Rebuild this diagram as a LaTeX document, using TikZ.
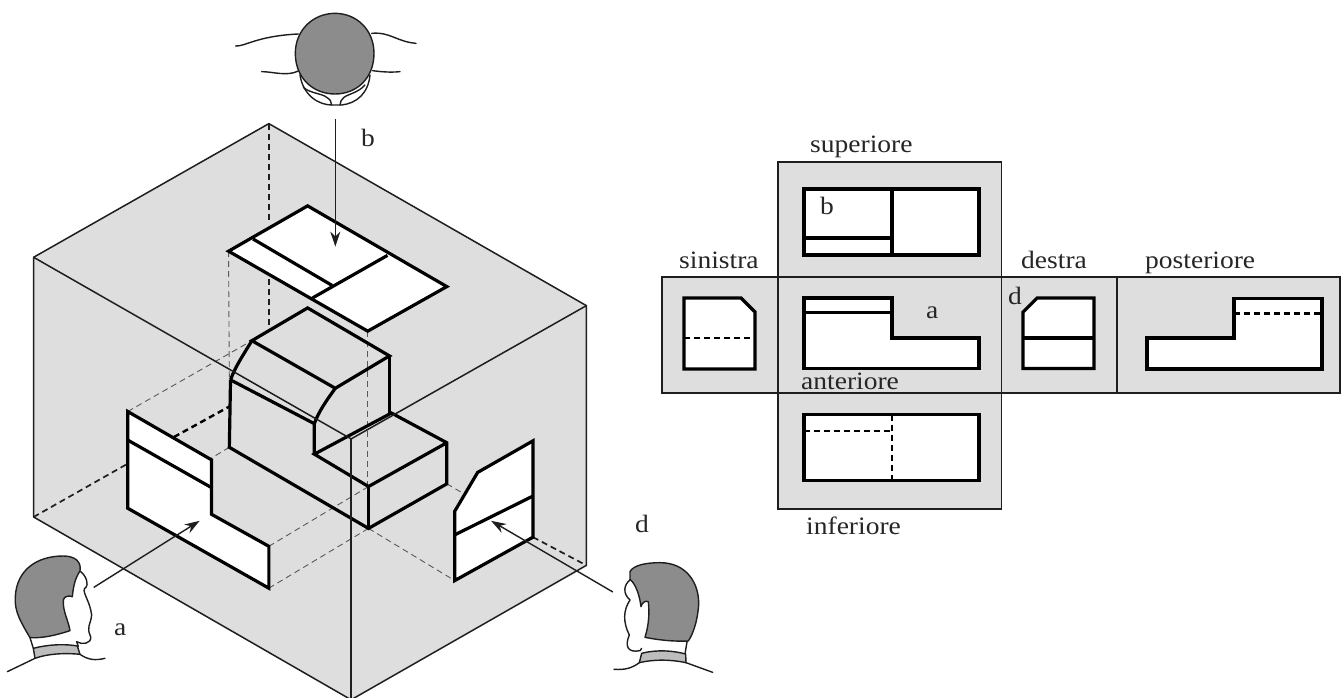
\documentclass[tikz,border=0pt]{standalone}
\usepackage{fontspec}
\setmainfont[FakeStretch=1.1]{Liberation Serif}
\usetikzlibrary{arrows.meta}
\definecolor{facegray}{HTML}{DEDEDE}
\definecolor{hairgray}{HTML}{8C8C8C}
\definecolor{collargray}{HTML}{BDBDBD}
\definecolor{inkblack}{HTML}{1E1E1E}
\tikzset{
  cubeedge/.style={draw=inkblack,line width=1.5pt,line join=round},
  heavy/.style={draw=black,line width=3.2pt,line join=miter},
  flatedge/.style={draw=inkblack,line width=1.2pt},
  hiddenthin/.style={draw=black!65,line width=0.9pt,dash pattern=on 6pt off 4pt},
  hiddenbold/.style={draw=inkblack,line width=1.7pt,dash pattern=on 6pt off 4pt},
  hiddenheavy/.style={draw=black,line width=2.4pt,dash pattern=on 6pt off 4pt},
  sight/.style={draw=inkblack,line width=1.4pt,-{Stealth[length=15pt,width=10pt]}},
  outline/.style={draw=inkblack,line width=1.4pt,line join=round,line cap=round},
  lbl/.style={inner sep=0pt,anchor=base west,font=\fontsize{25}{30}\selectfont,text=black!85},
}
\begin{document}
\begin{tikzpicture}[x=1pt,y=-1pt]
\useasboundingbox (0,0) rectangle (1341,697);
\clip (0,0) rectangle (1341,697);
\fill[white] (0,0) rectangle (1341,697);
% ---------- cube, in crop coordinates
\begin{scope}[yshift=-100pt,x=0.3954pt,y=-0.3808pt]
\coordinate (apex) at (680,62);
\coordinate (cl) at (85,413);
\coordinate (cr) at (1483,540);
\coordinate (cc) at (888,890);
\coordinate (bl) at (85,1095);
\coordinate (br) at (1483,1222);
\coordinate (bc) at (888,1575);
\fill[facegray] (apex)--(cr)--(br)--(bc)--(bl)--(cl)--cycle;
% hidden
\draw[hiddenbold] (bl)--(323,955);
\draw[hiddenbold] (323,955)--(440,885);
\draw[hiddenheavy] (440,885)--(580,805);
\draw[hiddenbold] (apex)--(680,320);
\draw[hiddenbold] (680,470)--(680,600);
\draw[hiddenbold] (1348,1148)--(br);
\draw[hiddenthin] (323,818)--(637,632);
\draw[hiddenthin] (680,1172)--(932,1015);
\draw[hiddenthin] (680,1282)--(932,1125);
\draw[hiddenthin] (932,1125)--(1150,1262);
\draw[hiddenthin] (1130,1008)--(1180,1038);
\draw[hiddenthin] (580,912)--(535,940);
\draw[hiddenthin] (578,397)--(580,735);
\draw[hiddenthin] (930,607)--(930,1015);
% panels
\draw[heavy,fill=white] (778,278)--(1130,490)--(930,607)--(578,397)--cycle;
\draw[heavy] (640,365)--(840,487);
\draw[heavy] (980,408)--(790,520);
\draw[heavy,fill=white] (323,818)--(535,945)--(535,1088)--(680,1172)--(680,1282)--(323,1072)--cycle;
\draw[heavy] (323,893)--(535,1018);
\draw[heavy,fill=white] (1348,895)--(1348,1148)--(1150,1262)--(1150,1080)--(1208,978)--cycle;
\draw[heavy] (1150,1142)--(1348,1040);
% object
\draw[heavy] (778,546)--(985,672)--(848,757)--(637,632)--cycle;
\draw[heavy] (637,632) .. controls (615,670) and (595,700) .. (583,735);
\draw[heavy] (848,757) .. controls (825,790) and (805,820) .. (795,850);
\draw[heavy] (583,735)--(580,912)--(932,1125)--(1130,1008)--(1130,900)--(990,822)--(795,930)--(932,1015)--(1130,900);
\draw[heavy] (932,1015)--(932,1125);
\draw[heavy] (583,735)--(795,850)--(795,930);
\draw[heavy] (985,672)--(985,822);
% cube edges
\draw[cubeedge] (cl)--(apex)--(cr)--(br)--(bc)--(bl)--cycle;
\draw[cubeedge] (cl)--(cc)--(cr);
\draw[cubeedge] (cc)--(bc);
% arrows
\coordinate (afrom) at (237,1280);
\coordinate (ato) at (505,1105);
\coordinate (bfrom) at (848,50);
\coordinate (bto) at (848,385);
\coordinate (dfrom) at (1550,1292);
\coordinate (dto) at (1242,1105);
\draw[sight] (afrom)--(ato);
\draw[sight] (bfrom)--(bto);
\draw[sight] (dfrom)--(dto);
\end{scope}
% ---------- top head
\begin{scope}[xshift=220pt,x=0.3333pt,y=-0.3333pt]
\draw[outline] (240,225) .. controls (250,290) and (300,315) .. (335,315) -- (365,315) .. controls (410,310) and (445,280) .. (450,225);
\draw[outline] (250,262) .. controls (270,280) and (305,280) .. (320,292) .. controls (330,298) and (335,305) .. (335,315);
\draw[outline] (435,255) .. controls (415,278) and (385,282) .. (372,292) .. controls (365,298) and (360,305) .. (360,315);
\draw[outline] (47,138) .. controls (75,140) and (110,108) .. (235,102);
\draw[outline] (125,215) .. controls (160,215) and (200,230) .. (235,213);
\draw[outline] (455,100) .. controls (510,95) and (530,125) .. (588,130);
\draw[outline] (458,212) .. controls (480,215) and (510,218) .. (540,215);
\draw[outline,fill=hairgray] (345,40) .. controls (410,40) and (462,90) .. (462,160) .. controls (462,235) and (410,282) .. (345,282) .. controls (280,282) and (226,235) .. (226,160) .. controls (226,90) and (280,40) .. (345,40) -- cycle;
\end{scope}
% ---------- left head
\begin{scope}[yshift=-540pt,x=0.3333pt,y=-0.3333pt]
\draw[outline] (240,93) .. controls (262,110) and (265,135) .. (258,142) .. controls (240,150) and (270,180) .. (275,225) .. controls (272,255) and (258,260) .. (272,290) .. controls (275,312) and (245,315) .. (230,305) -- (235,320);
\draw[outline] (90,293) -- (100,325);
\draw[outline,fill=collargray] (100,325) .. controls (150,312) and (200,312) .. (232,318) -- (240,343) .. controls (190,338) and (140,342) .. (105,355) -- cycle;
\draw[outline] (22,395) -- (105,355);
\draw[outline] (240,343) .. controls (265,360) and (285,362) .. (315,355);
\draw[outline,fill=hairgray] (90,293) .. controls (65,250) and (42,215) .. (46,170) .. controls (50,90) and (110,48) .. (190,48) .. controls (225,48) and (245,65) .. (240,93) .. controls (225,115) and (220,140) .. (217,170) .. controls (205,165) and (192,170) .. (190,180) .. controls (188,215) and (205,240) .. (210,272) .. controls (170,285) and (130,295) .. (90,293) -- cycle;
\end{scope}
% ---------- right head
\begin{scope}[xshift=590pt,yshift=-540pt,x=0.3333pt,y=-0.3333pt]
\draw[outline] (122,118) .. controls (100,135) and (98,160) .. (120,180) .. controls (100,210) and (98,245) .. (118,285) .. controls (105,315) and (110,340) .. (150,332) -- (155,325);
\draw[outline] (285,342) -- (292,300);
\draw[outline,fill=collargray] (155,340) .. controls (200,328) and (250,332) .. (287,342) -- (288,368) .. controls (240,358) and (190,358) .. (148,368) -- cycle;
\draw[outline] (288,368) -- (368,397);
\draw[outline] (148,368) .. controls (125,385) and (105,390) .. (72,388);
\draw[outline,fill=hairgray] (120,95) .. controls (130,75) and (170,68) .. (210,68) .. controls (290,68) and (328,130) .. (326,195) .. controls (322,245) and (310,280) .. (295,303) .. controls (250,305) and (205,300) .. (165,292) .. controls (178,250) and (178,215) .. (175,185) .. controls (165,180) and (155,190) .. (153,200) .. controls (148,160) and (135,130) .. (120,118) -- cycle;
\end{scope}
% ---------- flat development
\draw[flatedge,fill=facegray] (778,162) rectangle (1001.5,277);
\draw[flatedge,fill=facegray] (778,393) rectangle (1001.5,509);
\draw[flatedge,fill=facegray] (662,277) rectangle (1340,393);
\draw[flatedge] (778,277)--(778,393);
\draw[flatedge] (1001.5,277)--(1001.5,393);
\draw[flatedge] (1117,277)--(1117,393);
% superiore
\draw[heavy,fill=white] (804,189) rectangle (979,255);
\draw[heavy] (892,189)--(892,255);
\draw[heavy] (804,238)--(892,238);
% sinistra
\draw[heavy,fill=white] (684,298)--(741,298)--(755,312)--(755,369)--(684,369)--cycle;
\draw[hiddenheavy] (684,338)--(755,338);
% anteriore
\draw[heavy,fill=white] (804,298)--(892,298)--(892,338)--(979,338)--(979,368.5)--(804,368.5)--cycle;
\draw[heavy] (804,312.5)--(892,312.5);
% destra
\draw[heavy,fill=white] (1037,298)--(1094,298)--(1094,368.5)--(1023,368.5)--(1023,312)--cycle;
\draw[heavy] (1023,338)--(1094,338);
% posteriore
\draw[heavy,fill=white] (1147,338)--(1234,338)--(1234,298.5)--(1322,298.5)--(1322,369)--(1147,369)--cycle;
\draw[hiddenheavy] (1234,313.5)--(1322,313.5);
% inferiore
\draw[heavy,fill=white] (804,414.5) rectangle (979,480.5);
\draw[hiddenheavy] (804,431)--(892,431);
\draw[hiddenheavy] (892,414.5)--(892,480.5);
% ---------- labels
\node[lbl] (lsup) at (810,152) {superiore};
\node[lbl] (lsin) at (679,268) {sinistra};
\node[lbl] (ldes) at (1021,268) {destra};
\node[lbl] (lpos) at (1145,268) {posteriore};
\node[lbl] (lant) at (801,389) {anteriore};
\node[lbl] (linf) at (806,534) {inferiore};
\node[lbl] (lb2) at (820,214) {b};
\node[lbl] (la2) at (926,318) {a};
\node[lbl] (ld2) at (1008,304) {d};
\node[lbl] (lb1) at (361,146) {b};
\node[lbl] (la1) at (114,635) {a};
\node[lbl] (ld1) at (635,532) {d};
\end{tikzpicture}
\end{document}
